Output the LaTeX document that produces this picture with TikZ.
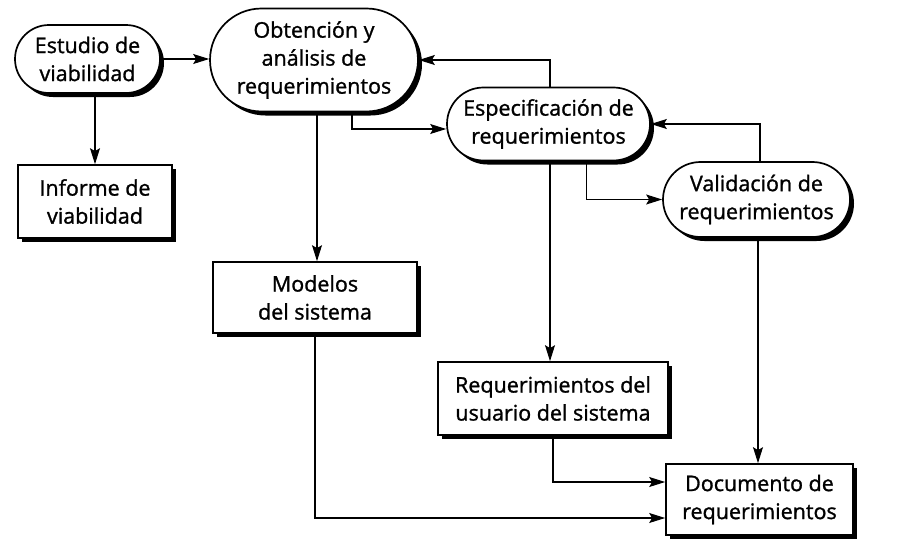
\documentclass[tikz,border=0pt]{standalone}
\usepackage{fontspec}
\setmainfont{Open Sans}[FakeBold=1.2]
\newfontfamily\boxfont{Open Sans}[FakeBold=1.2]
\usetikzlibrary{shapes.misc,shadows,arrows.meta}
\tikzset{
  shad/.style={drop shadow={shadow xshift=4pt,shadow yshift=-4pt,fill=black,opacity=1}},
  proc/.style={rounded rectangle,draw=black,line width=1.7pt,fill=white,shad,align=center,inner sep=0pt,
    font=\boxfont\fontsize{21.5}{28}\selectfont},
  doc/.style={rectangle,draw=black,line width=1.7pt,fill=white,shad,align=center,inner sep=0pt,
    font=\boxfont\fontsize{21.5}{28}\selectfont},
  conn/.style={line width=1.1pt,-{Stealth[length=16pt,width=10pt,inset=3pt]}}
}
\begin{document}
\begin{tikzpicture}[x=1pt,y=-1pt]
\useasboundingbox[fill=white] (0,0) rectangle (906,549);
\node[proc,minimum width=145pt,minimum height=68pt] (estudio) at (87.5,59) {Estudio de\\viabilidad};
\node[proc,minimum width=208pt,minimum height=103pt] (obt) at (314,60) {Obtención y\\análisis de\\requerimientos};
\node[doc,minimum width=154pt,minimum height=73pt] (informe) at (95,201.5) {Informe de\\viabilidad};
\node[proc,minimum width=203pt,minimum height=73pt] (espec) at (548.5,124) {Especificación de\\requerimientos};
\node[proc,minimum width=187pt,minimum height=75pt] (valid) at (756.5,199.5) {Validación de\\requerimientos};
\node[doc,minimum width=204pt,minimum height=71pt] (modelos) at (315,297.5) {Modelos\\del sistema};
\node[doc,minimum width=230pt,minimum height=73pt] (requs) at (553,398.5) {Requerimientos del\\usuario del sistema};
\node[doc,minimum width=187pt,minimum height=71pt] (docu) at (759.5,499.5) {Documento de\\requerimientos};

\draw[conn] (estudio.east) -- (estudio.east -| obt.west);
\draw[conn] (informe.north |- estudio.south) -- (informe.north);
\draw[conn] ([xshift=2pt]modelos.north |- obt.south) -- ([xshift=2pt]modelos.north);
\draw[conn] ([xshift=38pt]obt.south) |- ([yshift=-5pt]espec.west);
\draw[conn] ([xshift=1.5pt]espec.north) |- (obt.east);
\draw[conn] ([xshift=38pt]espec.south) |- (valid.west);
\draw[conn] ([xshift=3.5pt]valid.north) |- (espec.east);
\draw[conn] ([xshift=-3pt]requs.north |- espec.south) -- ([xshift=-3pt]requs.north);
\draw[conn] ([xshift=-1.5pt]docu.north |- valid.south) -- ([xshift=-1.5pt]docu.north);
\draw[conn] (requs.south) |- ([yshift=17.5pt]docu.west);
\draw[conn] (modelos.south) |- ([yshift=-18.5pt]docu.west);
\end{tikzpicture}
\end{document}
